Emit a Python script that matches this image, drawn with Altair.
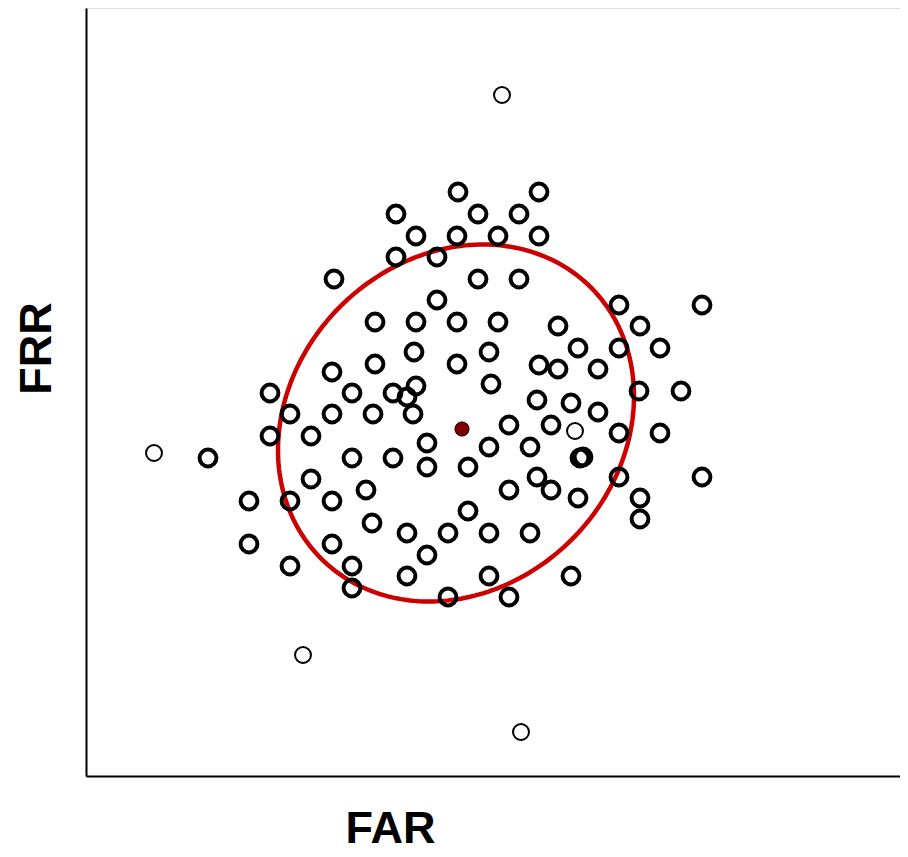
import altair as alt
import numpy as np
import pandas as pd

# Data values (FAR / FRR in plot units)
far_main = [372, 453, 310, 392, 433, 330, 371, 412, 453, 310, 351, 248, 392, 433, 351,
            533, 616, 289, 330, 371, 412, 472, 554, 328, 403, 492, 533, 574, 246, 289,
            371, 453, 472, 512, 405, 330, 307, 321, 184, 266, 553, 595, 451, 485, 512,
            204, 246, 287, 327, 423, 465, 533, 574, 184, 225, 341, 403, 444, 494, 497,
            122, 266, 307, 341, 382, 225, 451, 533, 616, 280, 423, 465, 163, 204, 246,
            492, 554, 554, 382, 286, 321, 362, 403, 444, 163, 246, 341, 204, 266, 321,
            403, 485, 266, 362, 423]
frr_main = [584, 584, 562, 562, 562, 540, 540, 540, 540, 519, 519, 497, 497, 497, 476,
            471, 471, 454, 454, 454, 454, 450, 450, 424, 424, 428, 428, 428, 404, 412,
            412, 411, 407, 407, 392, 390, 383, 379, 383, 383, 385, 385, 376, 373, 364,
            362, 362, 362, 362, 351, 351, 343, 343, 340, 340, 333, 329, 329, 318, 319,
            318, 318, 318, 309, 309, 297, 299, 299, 299, 286, 286, 286, 275, 275, 275,
            278, 278, 257, 265, 253, 243, 243, 243, 243, 232, 232, 221, 210, 210, 200,
            200, 200, 188, 179, 179]

far_outlier = [416, 68, 489, 217, 435]
frr_outlier = [681, 323, 345, 121, 44]

far_mean = [376]
frr_mean = [347]

# Confidence ellipse parameters
ell_center = (370, 353)
ell_sxx = 178.0 ** 2
ell_syy = 178.5 ** 2
ell_sxy = 4800.0

a = np.sqrt(ell_sxx)
c = ell_sxy / a
d = np.sqrt(ell_syy - c ** 2)
t = np.linspace(0, 2 * np.pi, 241)
ell_df = pd.DataFrame({
    "x": ell_center[0] + a * np.cos(t),
    "y": ell_center[1] + c * np.cos(t) + d * np.sin(t),
    "o": np.arange(len(t)),
})

main_df = pd.DataFrame({"x": far_main, "y": frr_main})
out_df = pd.DataFrame({"x": far_outlier, "y": frr_outlier})
mean_df = pd.DataFrame({"x": far_mean, "y": frr_mean})

xaxis = alt.Axis(title="FAR", ticks=False, labels=False, grid=False,
                 domainColor="black", domainWidth=2,
                 titleFont="Liberation Sans", titleFontSize=45, titleFontWeight="bold",
                 titleColor="black", titleX=304, titleY=66, titleAlign="center",
                 titleBaseline="alphabetic")
yaxis = alt.Axis(title="FRR", ticks=False, labels=False, grid=False,
                 domainColor="black", domainWidth=2,
                 titleFont="Liberation Sans", titleFontSize=45, titleFontWeight="bold",
                 titleColor="black", titleX=-36, titleY=340, titleAlign="center",
                 titleBaseline="alphabetic", titleAngle=270)

X = alt.X("x:Q", scale=alt.Scale(domain=[0, 814], nice=False, zero=False), axis=xaxis)
Y = alt.Y("y:Q", scale=alt.Scale(domain=[0, 768], nice=False, zero=False), axis=yaxis)

ellipse = alt.Chart(ell_df).mark_line(color="#CC0000", strokeWidth=4.5).encode(
    x=X, y=Y, order="o:Q")

pts = alt.Chart(main_df).mark_point(shape="circle", filled=False, size=283,
                                    strokeWidth=4, color="black", opacity=1).encode(x=X, y=Y)

outl = alt.Chart(out_df).mark_point(shape="circle", filled=False, size=254,
                                    strokeWidth=2, color="black", opacity=1).encode(x=X, y=Y)

mean = alt.Chart(mean_df).mark_point(shape="circle", filled=True, size=200,
                                     fill="#800000", stroke="black", strokeWidth=1,
                                     opacity=1).encode(x=X, y=Y)

chart = alt.layer(ellipse, pts, outl, mean).properties(
    width=814, height=768,
    padding={"left": 78, "top": 0, "right": 0, "bottom": 90},
    autosize=alt.AutoSizeParams(type="none"),
).configure_view(stroke=None).configure(background="white")

chart.save("out.html", embed_options={"renderer": "svg", "actions": False})
